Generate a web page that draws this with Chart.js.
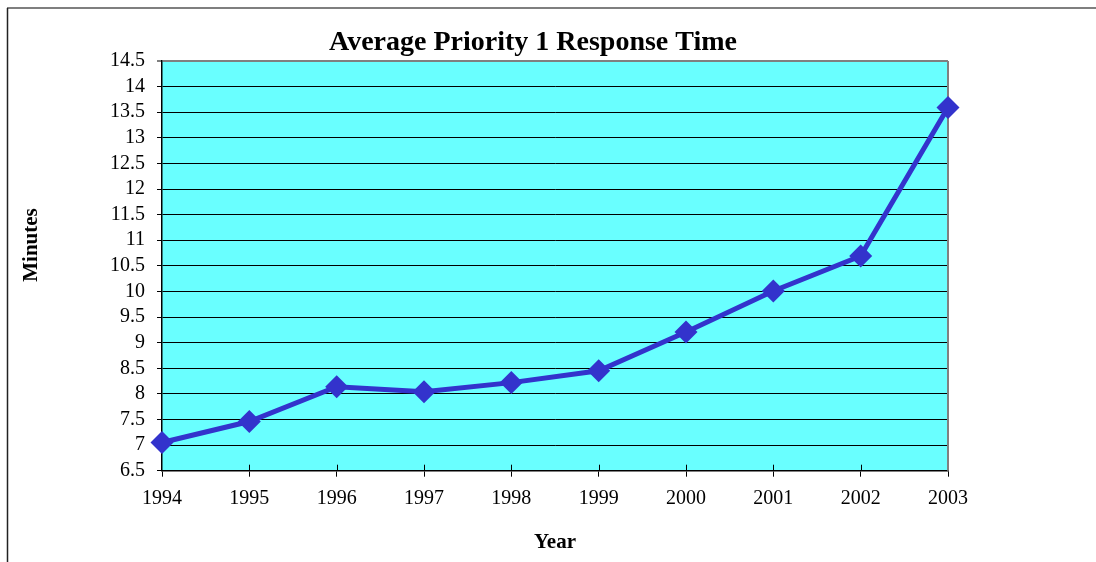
<!DOCTYPE html>
<html>
<head>
<meta charset="utf-8">
<script src="https://cdn.jsdelivr.net/npm/chart.js@4"></script>
<style>
  html, body { margin: 0; padding: 0; background: #fff; }
  #wrap { width: 1096px; height: 562px; }
</style>
</head>
<body>
<div id="wrap"><canvas id="responseChart" width="1096" height="562"></canvas></div>
<script>
const years = ['1994', '1995', '1996', '1997', '1998', '1999', '2000', '2001', '2002', '2003'];
const minutes = [7.05, 7.46, 8.14, 8.04, 8.22, 8.45, 9.21, 10.01, 10.69, 13.59];
const yMin = 6.5;
const yMax = 14.5;
const yStep = 0.5;

const chartTitle = 'Average Priority 1 Response Time';
const xTitle = 'Year';
const yTitle = 'Minutes';

const serif = '"Liberation Serif", "Times New Roman", serif';

// frame, plot background and the titles
const decor = {
    id: 'decor',
    beforeDraw: function (chart) {
        const ctx = chart.ctx;
        const a = chart.chartArea;
        ctx.save();
        ctx.fillStyle = '#69FFFF';
        ctx.fillRect(a.left, a.top, a.right - a.left, a.bottom - a.top);

        ctx.strokeStyle = '#7f7f7f';
        ctx.lineWidth = 2;
        ctx.beginPath();
        ctx.moveTo(7, 8);
        ctx.lineTo(1100, 8);
        ctx.stroke();
        ctx.strokeStyle = '#222';
        ctx.lineWidth = 1.5;
        ctx.beginPath();
        ctx.moveTo(7.5, 8);
        ctx.lineTo(7.5, 570);
        ctx.stroke();

        ctx.fillStyle = '#000';
        ctx.textAlign = 'center';
        ctx.textBaseline = 'alphabetic';
        ctx.font = 'bold 28px ' + serif;
        ctx.fillText(chartTitle, 533, 50);
        ctx.font = 'bold 21px ' + serif;
        ctx.fillText(xTitle, 555, 548);
        ctx.translate(36.5, 245);
        ctx.rotate(-Math.PI / 2);
        ctx.fillText(yTitle, 0, 0);
        ctx.restore();
    },
    beforeDatasetsDraw: function (chart) {
        const ctx = chart.ctx;
        const a = chart.chartArea;
        const x = chart.scales.x;
        ctx.save();
        ctx.strokeStyle = '#808080';
        ctx.lineWidth = 2;
        ctx.beginPath();
        ctx.moveTo(a.right, a.top);
        ctx.lineTo(a.right, a.bottom);
        ctx.stroke();
        // short part of the x ticks that pokes into the plot
        ctx.strokeStyle = '#000';
        ctx.lineWidth = 1;
        ctx.beginPath();
        for (let i = 1; i < years.length - 1; i++) {
            const px = Math.round(x.getPixelForTick(i)) + 0.5;
            ctx.moveTo(px, a.bottom);
            ctx.lineTo(px, a.bottom - 6);
        }
        ctx.stroke();
        ctx.restore();
    }
};

const ctx = document.getElementById('responseChart').getContext('2d');
const chart = new Chart(ctx, {
    type: 'line',
    data: {
        labels: years,
        datasets: [
            {
                data: minutes,
                borderColor: '#3333CC',
                backgroundColor: '#3333CC',
                borderWidth: 5,
                tension: 0,
                pointStyle: 'rectRot',
                pointRadius: 11.5,
                pointHoverRadius: 11.5,
                pointBorderWidth: 0,
                clip: false
            }
        ]
    },
    options: {
        responsive: false,
        animation: false,
        events: [],
        layout: {
            padding: { top: 61, right: 148, left: 0, bottom: 0 }
        },
        plugins: {
            legend: { display: false },
            tooltip: { enabled: false },
            title: { display: false }
        },
        scales: {
            x: {
                offset: false,
                grid: {
                    drawOnChartArea: false,
                    drawTicks: true,
                    tickLength: 6,
                    color: '#000'
                },
                border: { color: '#000', width: 1.5 },
                ticks: {
                    color: '#000',
                    padding: 10,
                    maxRotation: 0,
                    autoSkip: false,
                    font: { family: serif, size: 20 }
                },
                afterFit: function (scale) { scale.height = 91.3; }
            },
            y: {
                min: yMin,
                max: yMax,
                grid: {
                    color: function (c) { return c.tick && c.tick.value === yMax ? '#808080' : '#000'; },
                    lineWidth: function (c) { return c.tick && c.tick.value === yMax ? 2 : 1; },
                    tickLength: 5
                },
                border: { color: '#000', width: 1.5 },
                ticks: {
                    stepSize: yStep,
                    autoSkip: false,
                    color: '#000',
                    padding: 12,
                    font: { family: serif, size: 20 },
                    callback: function (v) { return String(v); }
                },
                afterFit: function (scale) { scale.width = 162; }
            }
        }
    },
    plugins: [decor]
});
</script>
</body>
</html>
